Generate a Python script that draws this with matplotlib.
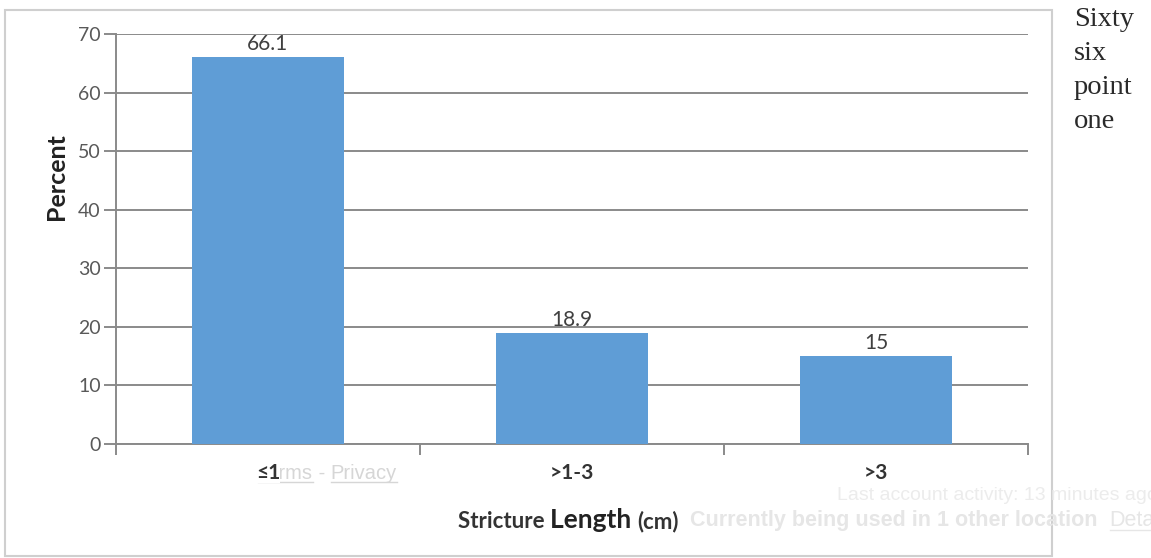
import matplotlib.pyplot as plt
from matplotlib.patches import Rectangle
from matplotlib.lines import Line2D

# data
categories = ["≤1", ">1-3", ">3"]
percent = [66.1, 18.9, 15]
value_labels = ["66.1", "18.9", "15"]
y_ticks = [0, 10, 20, 30, 40, 50, 60, 70]
side_note = ["Sixty", "six", "point", "one"]

bar_color = "#5f9dd6"
line_color = "#8a8a8a"
text_color = "#404040"
font = ["Lato", "DejaVu Sans"]
W, H = 1151, 558

plt.rcParams["font.family"] = font

fig = plt.figure(figsize=(W / 100, H / 100), dpi=100)
ax = fig.add_axes([116 / W, 1 - 444 / H, 912 / W, 410 / H])

x = list(range(len(categories)))
ax.bar(x, percent, width=0.5, color=bar_color, zorder=3)

ax.set_xlim(-0.5, len(categories) - 0.5)
ax.set_ylim(0, 70)
ax.set_yticks(y_ticks)
ax.yaxis.grid(True, color=line_color, linewidth=1.4, zorder=0)

for s in ["top", "right"]:
    ax.spines[s].set_visible(False)
for s in ["left", "bottom"]:
    ax.spines[s].set_color(line_color)
    ax.spines[s].set_linewidth(1.4)

# category boundary ticks, labels in the middle
ax.set_xticks([i - 0.5 for i in range(len(categories) + 1)])
ax.set_xticklabels([])
ax.set_xticks(x, minor=True)
ax.set_xticklabels(categories, minor=True, fontsize=15, fontweight="bold", color="#333333")
for lab in ax.get_xticklabels(minor=True):
    lab.set_bbox(dict(facecolor="white", edgecolor="none", pad=0))
    lab.set_zorder(5)
ax.tick_params(axis="x", which="major", length=8, width=1.4, color=line_color, direction="out")
ax.tick_params(axis="x", which="minor", length=0, pad=14)
ax.tick_params(axis="y", length=9, width=1.4, color=line_color, labelsize=14,
               labelcolor="#595959", pad=2)

for xi, v, lab in zip(x, percent, value_labels):
    ax.text(xi, v + 0.5, lab, ha="center", va="bottom", fontsize=15, color=text_color)

fig.text(57 / W, 1 - 177 / H, "Percent", fontsize=18, fontweight="bold", color="#222222",
         rotation=90, ha="center", va="center")

fig.canvas.draw()
renderer = fig.canvas.get_renderer()


def text_run(x0, y0, pieces, underline=(), z=1):
    # place text pieces one after another on a common baseline (pixels)
    xp = x0
    for i, (s, kw) in enumerate(pieces):
        t = fig.text(xp / W, 1 - y0 / H, s, ha="left", va="baseline", zorder=z, **kw)
        bb = t.get_window_extent(renderer)
        if i in underline:
            yl = bb.y0 + 1
            fig.add_artist(Line2D([bb.x0 / W, bb.x1 / W], [yl / H, yl / H],
                                  color=kw.get("color"), linewidth=1, zorder=z))
        xp = bb.x1


# x axis title with mixed sizes
text_run(458, 528, [
    ("Stricture ", dict(fontsize=16, fontweight="bold", color="#333333")),
    ("Length ", dict(fontsize=19, fontweight="bold", color="#222222")),
    ("(cm)", dict(fontsize=16, fontweight="bold", color="#333333")),
])

# faint screenshot overlay text
sans = "Liberation Sans"
faint = "#d6d6d6"
text_run(258, 479, [
    ("Terms", dict(fontsize=14.5, color=faint, family=sans)),
    (" - ", dict(fontsize=14.5, color=faint, family=sans)),
    ("Privacy", dict(fontsize=14.5, color=faint, family=sans)),
], underline=(0, 2), z=-1)
fig.text(837 / W, 1 - 500 / H, "Last account activity: 13 minutes ago", fontsize=14,
         color="#ececec", family=sans, ha="left", va="baseline")
text_run(690, 526, [
    ("Currently being used in 1 other location  ",
     dict(fontsize=15.5, color="#e6e6e6", fontweight="bold", family=sans)),
    ("Details", dict(fontsize=15.5, color="#e6e6e6", family=sans)),
], underline=(1,))

# border around the chart area
fig.patches.append(Rectangle((5 / W, 1 - 556 / H), 1047 / W, 546 / H,
                             transform=fig.transFigure, fill=False,
                             edgecolor="#cfcfcf", linewidth=1.5))

# serif note on the right
for i, word in enumerate(side_note):
    fig.text(1074 / W, 1 - (20 + i * 34) / H, word, fontsize=20.5,
             family="Liberation Serif", color="#2a2a2a", ha="left", va="center")

fig.savefig("out.png", dpi=100, facecolor="white")
